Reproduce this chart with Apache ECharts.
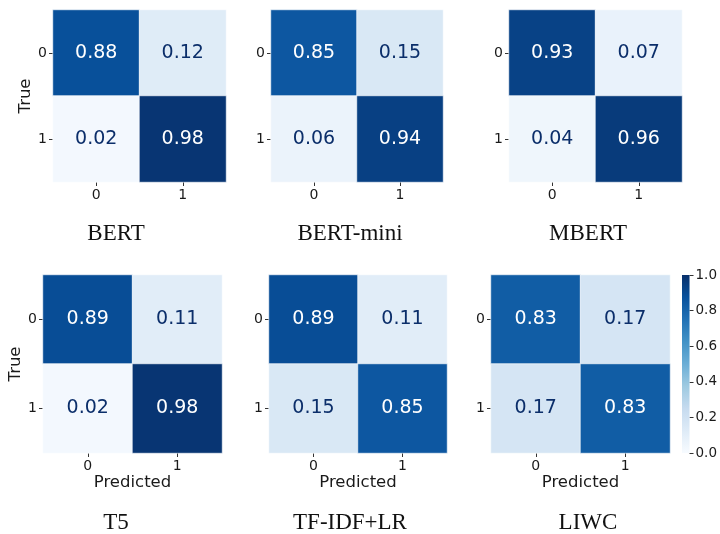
<!DOCTYPE html>
<html>
<head>
<meta charset="utf-8">
<script src="https://cdn.jsdelivr.net/npm/echarts@6/dist/echarts.min.js"></script>
<style>
  html, body { margin: 0; padding: 0; background: #fff; }
  #chart { width: 720px; height: 534px; }
</style>
</head>
<body>
<div id="chart"></div>
<script>
// Normalised confusion matrices (rows = true class, columns = predicted class)
const classes = ['0', '1'];
const models = ['BERT', 'BERT-mini', 'MBERT', 'T5', 'TF-IDF+LR', 'LIWC'];
const bert     = [[0.88, 0.12], [0.02, 0.98]];
const bertMini = [[0.85, 0.15], [0.06, 0.94]];
const mbert    = [[0.93, 0.07], [0.04, 0.96]];
const t5       = [[0.89, 0.11], [0.02, 0.98]];
const tfidfLr  = [[0.89, 0.11], [0.15, 0.85]];
const liwc     = [[0.83, 0.17], [0.17, 0.83]];
const matrices = [bert, bertMini, mbert, t5, tfidfLr, liwc];

// Colour bar range and ticks
const colorbarMin = 0;
const colorbarMax = 1;
const colorbarStep = 0.2;

// Matplotlib "Blues" colour map, low to high
const blues = ['#f7fbff', '#deebf7', '#c6dbef', '#9ecae1', '#6baed6',
               '#4292c6', '#2171b5', '#08519c', '#08306b'];

const sans = 'DejaVu Sans';
const serif = 'Liberation Serif';

// Panel layout
const grids = [
  { left: 53,  top: 10,  width: 173, height: 172 },
  { left: 271, top: 10,  width: 172, height: 172 },
  { left: 509, top: 10,  width: 173, height: 172 },
  { left: 43,  top: 275, width: 179, height: 178 },
  { left: 269, top: 275, width: 178, height: 178 },
  { left: 491, top: 275, width: 179, height: 178 },
  { left: 682, top: 275, width: 10,  height: 178 }   // colour bar
];
const titleCenters = [
  [116, 234], [350, 234], [588, 234],
  [116, 523], [350, 523], [588, 523]
];

const tickStyle = { show: true, alignWithLabel: true, length: 4, lineStyle: { color: '#333', width: 1 } };
const labelStyle = { fontSize: 14, color: '#1a1a1a', fontFamily: sans, margin: 6 };

const xAxes = [], yAxes = [], series = [];
matrices.forEach((m, i) => {
  const bottomRow = i >= 3;
  xAxes.push({
    type: 'category', gridIndex: i, data: classes,
    axisLine: { show: false }, axisTick: tickStyle, axisLabel: labelStyle,
    splitLine: { show: false },
    name: bottomRow ? 'Predicted' : '', nameLocation: 'middle', nameGap: 21,
    nameTextStyle: { fontSize: 16.5, color: '#1a1a1a', fontFamily: sans }
  });
  yAxes.push({
    type: 'category', gridIndex: i, data: classes, inverse: true,
    axisLine: { show: false }, axisTick: tickStyle, axisLabel: labelStyle,
    splitLine: { show: false },
    name: (i % 3 === 0) ? 'True' : '', nameLocation: 'middle', nameGap: 18,
    nameRotate: 90,
    nameTextStyle: { fontSize: 16.5, color: '#1a1a1a', fontFamily: sans }
  });
  const data = [];
  m.forEach((row, r) => row.forEach((v, c) => {
    data.push({
      value: [c, r, v],
      label: { color: v > 0.5 ? '#ffffff' : '#0b2e6a' }
    });
  }));
  series.push({
    type: 'heatmap', xAxisIndex: i, yAxisIndex: i, data: data,
    itemStyle: { borderColor: '#ffffff', borderWidth: 0.6 },
    label: {
      show: true, fontSize: 19, fontFamily: sans,
      formatter: p => p.value[2].toFixed(2)
    },
    emphasis: { disabled: true }
  });
});

// Colour bar: one full-height bar filled with the colour map gradient
xAxes.push({ type: 'category', gridIndex: 6, data: [''], show: false });
yAxes.push({
  type: 'value', gridIndex: 6, position: 'right',
  min: colorbarMin, max: colorbarMax, interval: colorbarStep,
  axisLine: { show: false },
  axisTick: { show: true, length: 4, lineStyle: { color: '#333' } },
  axisLabel: Object.assign({}, labelStyle, { fontSize: 13.5, formatter: v => v.toFixed(1) }),
  splitLine: { show: false }
});
series.push({
  type: 'bar', xAxisIndex: 6, yAxisIndex: 6, data: [colorbarMax],
  barWidth: '100%', silent: true,
  itemStyle: {
    color: new echarts.graphic.LinearGradient(0, 1, 0, 0,
      blues.map((c, k) => ({ offset: k / (blues.length - 1), color: c })))
  }
});

const titles = models.map((name, i) => ({
  type: 'text', x: titleCenters[i][0], y: titleCenters[i][1],
  style: {
    text: name, textAlign: 'center', textVerticalAlign: 'middle',
    font: '23px "' + serif + '"', fill: '#111'
  }
}));

const chart = echarts.init(document.getElementById('chart'), null, { renderer: 'canvas' });
chart.setOption({
  animation: false,
  backgroundColor: '#ffffff',
  grid: grids,
  xAxis: xAxes,
  yAxis: yAxes,
  visualMap: {
    show: false, type: 'continuous', seriesIndex: [0, 1, 2, 3, 4, 5],
    min: colorbarMin, max: colorbarMax, dimension: 2,
    inRange: { color: blues }
  },
  series: series,
  graphic: titles
});
</script>
</body>
</html>
